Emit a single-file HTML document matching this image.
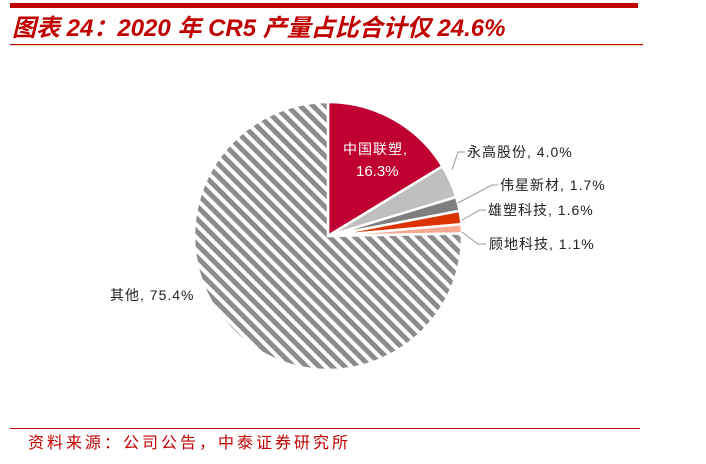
<!DOCTYPE html>
<html><head><meta charset="utf-8"><style>
body{margin:0;background:#fff;width:706px;height:459px;overflow:hidden;font-family:"Liberation Sans","Noto Sans CJK SC",sans-serif}
</style></head><body>
<svg id="s" width="706" height="459" xmlns="http://www.w3.org/2000/svg">
<defs><pattern id="h" patternUnits="userSpaceOnUse" width="9" height="9" patternTransform="rotate(-45)">
<rect width="9" height="9" fill="#fff"/><rect width="5" height="9" fill="#8c8c8c"/></pattern></defs>
<rect x="10" y="3" width="628" height="5" fill="#c00000"/>
<text x="12" y="36" font-size="24" font-weight="bold" font-style="italic" fill="#c00000" font-family="Liberation Sans,'Noto Sans CJK SC',sans-serif">图表 24：2020 年 CR5 产量占比合计仅 24.6%</text>
<rect x="10" y="44" width="633" height="1.2" fill="#c00000"/>
<g id="pie"></g>
<g stroke="#999" fill="none" stroke-width="1">
<polyline points="452,170 458,152 465,152"/>
<polyline points="458,203 492,185 498,185"/>
<polyline points="462,220 480,210 486,210"/>
<polyline points="462,232 478,244 486,244"/>
</g>
<g font-size="14" fill="#222" letter-spacing="1">
<text x="343" y="154" fill="#fff" font-size="14">中国联塑,</text>
<text x="356" y="176" fill="#fff" font-size="15" letter-spacing="0">16.3%</text>
<text x="467" y="157">永高股份, 4.0%</text>
<text x="500" y="190">伟星新材, 1.7%</text>
<text x="488" y="215">雄塑科技, 1.6%</text>
<text x="489" y="249">顾地科技, 1.1%</text>
<text x="110" y="300">其他, 75.4%</text>
</g>
<rect x="10" y="428" width="630" height="1" fill="#c00000"/>
<text x="28" y="448" font-size="16" letter-spacing="3" fill="#c00000">资料来源：公司公告，中泰证券研究所</text>
</svg>
<script>
var cx=328,cy=236,r=134,d=[[.163,"#c00030"],[.04,"#bfbfbf"],[.017,"#7f7f7f"],[.016,"#dd3300"],[.011,"#f8aa90"],[.753,"url(#h)"]];
var a=0,g=document.getElementById("pie"),h="";
function p(t){t*=2*Math.PI;return (cx+r*Math.sin(t)).toFixed(2)+","+(cy-r*Math.cos(t)).toFixed(2);}
d.forEach(function(s){var b=a+s[0];h+='<path d="M'+cx+','+cy+' L'+p(a)+' A'+r+','+r+' 0 '+(s[0]>.5?1:0)+' 1 '+p(b)+' Z" fill="'+s[1]+'" stroke="#fff" stroke-width="2.5"/>';a=b;});
g.innerHTML=h;
</script>
</body></html>
